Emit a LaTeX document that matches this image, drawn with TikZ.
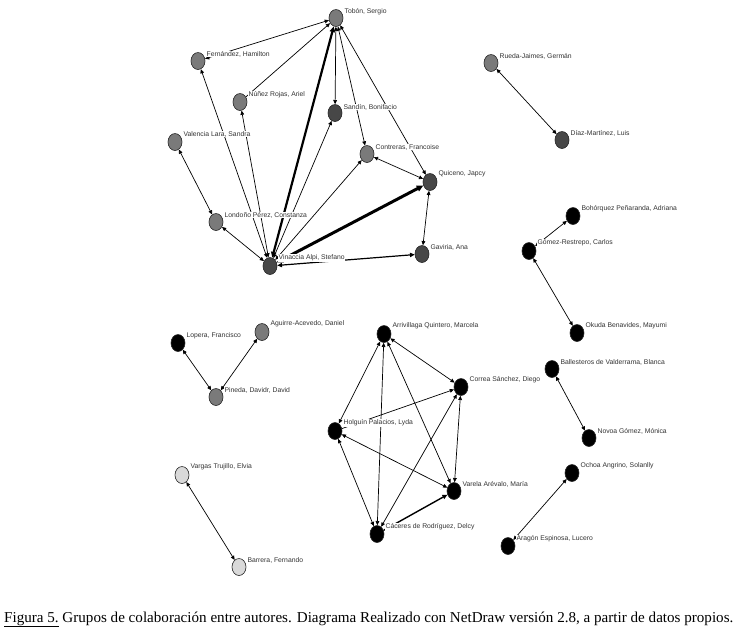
\documentclass[tikz,border=0pt]{standalone}
\usepackage{fontspec}
\setmainfont{Liberation Serif}
\newfontfamily\labfont{Liberation Sans}
\usetikzlibrary{shapes.geometric,arrows.meta}
\tikzset{
  actor/.style={ellipse,draw=black!85,line width=0.6pt,minimum width=14pt,minimum height=17pt,inner sep=0pt},
  gnode/.style={actor,fill=black!52},
  dnode/.style={actor,fill=black!72},
  bnode/.style={actor,fill=black},
  lnode/.style={actor,fill=black!15},
  lab/.style={anchor=west,fill=white,inner sep=0.4pt,text=black!80,font=\labfont\fontsize{6.8}{7.5}\selectfont},
  tie/.style={line width=0.7pt,>={Triangle[length=3.5pt 1,width=3pt 1]},<->},
  tieto/.style={line width=0.7pt,>={Triangle[length=3.5pt 1,width=3pt 1]},->},
}
\begin{document}
\begin{tikzpicture}[x=1pt,y=-1pt]
                    \useasboundingbox (0,0) rectangle (734,630);
                    % top group
                    \node[gnode] (tobon) at (336,18) {};
                    \node[gnode] (fernandez) at (198,61) {};
                    \node[gnode] (nunez) at (240,102) {};
                    \node[dnode] (sandin) at (335,113) {};
                    \node[gnode] (valencia) at (175,142) {};
                    \node[gnode] (contreras) at (367,154) {};
                    \node[dnode] (quiceno) at (430,182) {};
                    \node[gnode] (londono) at (216,222) {};
                    \node[dnode] (vinaccia) at (270,266) {};
                    \node[dnode] (gaviria) at (422,254) {};
                    % right groups
                    \node[gnode] (rueda) at (491,63) {};
                    \node[dnode] (diaz) at (562,140) {};
                    \node[bnode] (bohorquez) at (573,216) {};
                    \node[bnode] (gomez) at (529,251) {};
                    \node[bnode] (okuda) at (577,333) {};
                    \node[bnode] (ballesteros) at (552,369) {};
                    \node[bnode] (novoa) at (589,438) {};
                    \node[bnode] (ochoa) at (572,473) {};
                    \node[bnode] (aragon) at (508,546) {};
                    % bottom groups
                    \node[bnode] (lopera) at (178,343) {};
                    \node[gnode] (aguirre) at (262,332) {};
                    \node[gnode] (pineda) at (216,397) {};
                    \node[bnode] (arrivillaga) at (384,334) {};
                    \node[bnode] (correa) at (461,387) {};
                    \node[bnode] (holguin) at (335,431) {};
                    \node[bnode] (varela) at (454,491) {};
                    \node[bnode] (caceres) at (377,534) {};
                    \node[lnode] (vargas) at (182,475) {};
                    \node[lnode] (barrera) at (239,567) {};

                    \draw[tie] (fernandez) -- (tobon);
                    \draw[tieto] (nunez) -- (tobon);
                    \draw[tie] (vinaccia) -- (fernandez);
                    \draw[tie] (vinaccia) -- (nunez);
                    \draw[tie,line width=2.2pt] (vinaccia) -- (tobon);
                    \draw[tie] (tobon) -- (sandin);
                    \draw[tie] (tobon) -- (contreras);
                    \draw[tie] (tobon) -- (quiceno);
                    \draw[tie] (vinaccia) -- (sandin);
                    \draw[tie] (vinaccia) -- (contreras);
                    \draw[tie,line width=3pt] (vinaccia) -- (quiceno);
                    \draw[tie] (contreras) -- (quiceno);
                    \draw[tie] (quiceno) -- (gaviria);
                    \draw[tie,line width=1.2pt] (vinaccia) -- (gaviria);
                    \draw[tie] (valencia) -- (londono);
                    \draw[tie] (londono) -- (vinaccia);

                    \draw[tie] (rueda) -- (diaz);
                    \draw[tie] (gomez) -- (bohorquez);
                    \draw[tie] (gomez) -- (okuda);
                    \draw[tie] (ballesteros) -- (novoa);
                    \draw[tie] (aragon) -- (ochoa);

                    \draw[tie] (lopera) -- (pineda);
                    \draw[tie] (pineda) -- (aguirre);
                    \draw[tie] (vargas) -- (barrera);

                    \draw[tie] (arrivillaga) -- (correa);
                    \draw[tie] (arrivillaga) -- (holguin);
                    \draw[tie] (arrivillaga) -- (caceres);
                    \draw[tie] (arrivillaga) -- (varela);
                    \draw[tieto] (holguin) -- (correa);
                    \draw[tie] (holguin) -- (varela);
                    \draw[tie] (holguin) -- (caceres);
                    \draw[tie] (correa) -- (varela);
                    \draw[tie] (correa) -- (caceres);
                    \draw[tieto,line width=1.4pt] (caceres) -- (varela);

                    % names
                    \node[lab] (label_tobon) at (344,12) {Tobón, Sergio};
                    \node[lab] (label_fernandez) at (206,54) {Fernández, Hamilton};
                    \node[lab] (label_nunez) at (248,95) {Núñez Rojas, Ariel};
                    \node[lab] (label_sandin) at (343,107) {Sandín, Bonifacio};
                    \node[lab] (label_valencia) at (183,134) {Valencia Lara, Sandra};
                    \node[lab] (label_contreras) at (375,147) {Contreras, Francoise};
                    \node[lab] (label_quiceno) at (438,174) {Quiceno, Japcy};
                    \node[lab] (label_londono) at (224,215) {Londoño Pérez, Constanza};
                    \node[lab] (label_vinaccia) at (278,258) {Vinaccia Alpi, Stefano};
                    \node[lab] (label_gaviria) at (430,247) {Gaviria, Ana};
                    \node[lab] (label_rueda) at (499,56) {Rueda-Jaimes, Germán};
                    \node[lab] (label_diaz) at (570,133) {Díaz-Martínez, Luis};
                    \node[lab] (label_bohorquez) at (581,209) {Bohórquez Peñaranda, Adriana};
                    \node[lab] (label_gomez) at (537,243) {Gómez-Restrepo, Carlos};
                    \node[lab] (label_okuda) at (585,326) {Okuda Benavides, Mayumi};
                    \node[lab] (label_ballesteros) at (560,362) {Ballesteros de Valderrama, Blanca};
                    \node[lab] (label_novoa) at (597,431) {Novoa Gómez, Mónica};
                    \node[lab] (label_ochoa) at (580,466) {Ochoa Angrino, Solanlly};
                    \node[lab] (label_aragon) at (516,539) {Aragón Espinosa, Lucero};
                    \node[lab] (label_lopera) at (186,336) {Lopera, Francisco};
                    \node[lab] (label_aguirre) at (270,324) {Aguirre-Acevedo, Daniel};
                    \node[lab] (label_pineda) at (224,390) {Pineda, Davidr, David};
                    \node[lab] (label_arrivillaga) at (392,326) {Arrivillaga Quintero, Marcela};
                    \node[lab] (label_correa) at (469,380) {Correa Sánchez, Diego};
                    \node[lab] (label_holguin) at (343,423) {Holguín Palacios, Lyda};
                    \node[lab] (label_varela) at (462,484) {Varela Arévalo, María};
                    \node[lab] (label_caceres) at (385,527) {Cáceres de Rodríguez, Delcy};
                    \node[lab] (label_vargas) at (190,467) {Vargas Trujillo, Elvia};
                    \node[lab] (label_barrera) at (247,560) {Barrera, Fernando};

                    \node[anchor=base west,inner sep=0pt,font=\fontsize{15.1}{17}\selectfont] (caption) at (4,622)
                        {\underline{Figura 5.} Grupos de colaboración entre autores. Diagrama Realizado con NetDraw versión 2.8, a partir de datos propios.};
                \end{tikzpicture}
\end{document}
